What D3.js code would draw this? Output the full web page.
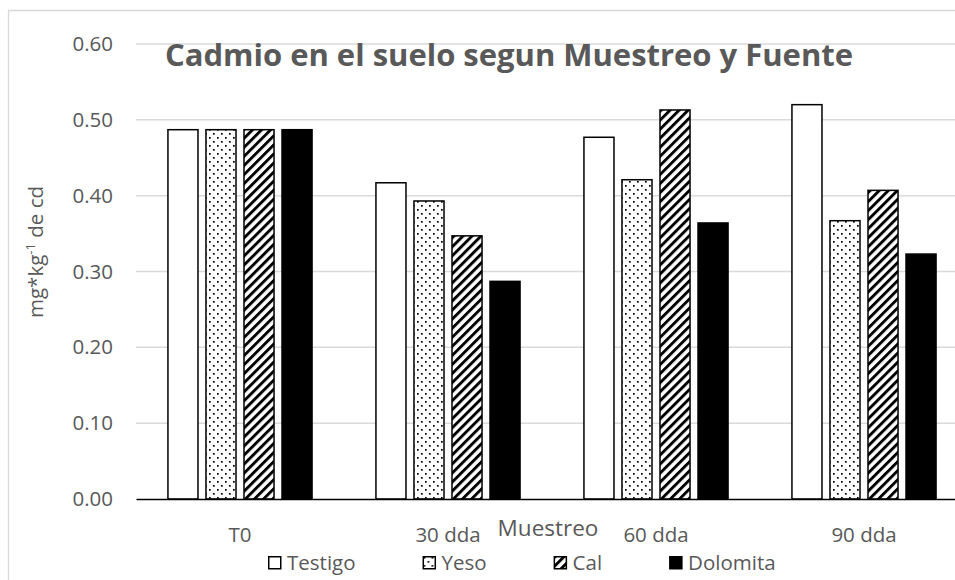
<!DOCTYPE html>
<html lang="es">
<head>
<meta charset="UTF-8">
<title>Cadmio en el suelo</title>
<script src="https://d3js.org/d3.v7.min.js"></script>
<style>
  body { margin: 0; background: #fff; }
  .chart text { font-family: "Open Sans", sans-serif; fill: #595959; }
</style>
</head>
<body>
<div class="chart"></div>
<script>
// datos
const muestreos = ['T0', '30 dda', '60 dda', '90 dda']
const fuentes = ['Testigo', 'Yeso', 'Cal', 'Dolomita']
const testigo  = [0.487, 0.417, 0.477, 0.520]
const yeso     = [0.487, 0.393, 0.421, 0.367]
const cal      = [0.487, 0.347, 0.513, 0.407]
const dolomita = [0.487, 0.287, 0.364, 0.323]
const yTicks = [0, 0.1, 0.2, 0.3, 0.4, 0.5, 0.6]

const valores = [testigo, yeso, cal, dolomita]
const data = muestreos.map((m, i) => ({
  muestreo: m,
  vals: fuentes.map((f, j) => ({ fuente: f, valor: valores[j][i] }))
}))

const width = 955, height = 580
const plot = { left: 136, right: 968, top: 44, bottom: 499 }

const svg = d3.select('.chart').append('svg')
  .attr('width', width)
  .attr('height', height)

// patrones
const defs = svg.append('defs')
const dots = defs.append('pattern').attr('id', 'dots')
  .attr('patternUnits', 'userSpaceOnUse').attr('width', 8).attr('height', 8)
dots.append('rect').attr('width', 8).attr('height', 8).attr('fill', '#fff')
dots.append('rect').attr('x', 1).attr('y', 1).attr('width', 1.7).attr('height', 1.7).attr('fill', '#000')
dots.append('rect').attr('x', 5).attr('y', 5).attr('width', 1.7).attr('height', 1.7).attr('fill', '#000')

const stripes = defs.append('pattern').attr('id', 'stripes')
  .attr('patternUnits', 'userSpaceOnUse').attr('width', 6.4).attr('height', 6.4)
  .attr('patternTransform', 'rotate(45)')
stripes.append('rect').attr('width', 6.4).attr('height', 6.4).attr('fill', '#fff')
stripes.append('rect').attr('width', 2.9).attr('height', 6.4).attr('fill', '#000')

const fill = d3.scaleOrdinal()
  .domain(fuentes)
  .range(['#fff', 'url(#dots)', 'url(#stripes)', '#000'])

// borde del area del grafico
svg.append('path')
  .attr('d', `M8.5,${height} V10.5 H${width}`)
  .attr('fill', 'none').attr('stroke', '#d9d9d9').attr('stroke-width', 1.3)

// escalas
const x0 = d3.scaleBand().domain(muestreos).range([plot.left, plot.right])
const x1 = d3.scaleBand().domain(fuentes).range([0, x0.bandwidth()])
  .paddingInner(0.21).paddingOuter(0.84)
const y = d3.scaleLinear().domain([0, 0.6]).range([plot.bottom, plot.top])

// grilla
svg.append('g')
  .selectAll('line')
  .data(yTicks.filter(d => d > 0))
  .enter().append('line')
  .attr('x1', plot.left).attr('x2', plot.right)
  .attr('y1', d => y(d)).attr('y2', d => y(d))
  .attr('stroke', '#d9d9d9').attr('stroke-width', 1.5)

// eje Y
const yAxis = d3.axisLeft(y).tickValues(yTicks).tickFormat(d3.format('.2f')).tickSize(0).tickPadding(23)
const gy = svg.append('g').attr('transform', `translate(${plot.left},0)`).call(yAxis)
gy.select('.domain').remove()
gy.selectAll('text').style('font-size', '20.5px')

// barras
svg.append('g')
  .selectAll('g')
  .data(data)
  .enter().append('g')
  .attr('transform', d => `translate(${x0(d.muestreo)},0)`)
  .selectAll('rect')
  .data(d => d.vals)
  .enter().append('rect')
  .attr('x', d => x1(d.fuente))
  .attr('y', d => y(d.valor))
  .attr('width', x1.bandwidth())
  .attr('height', d => y(0) - y(d.valor))
  .attr('fill', d => fill(d.fuente))
  .attr('stroke', '#000').attr('stroke-width', 1.5)

// eje X
const xAxis = d3.axisBottom(x0).tickSize(0)
const gx = svg.append('g').attr('transform', `translate(0,${plot.bottom})`).call(xAxis)
gx.select('.domain').attr('stroke', '#000').attr('stroke-width', 1.5)
gx.selectAll('text').style('font-size', '20.5px').attr('y', 36).attr('dy', '0.32em')

// titulos
svg.append('text')
  .attr('x', 509).attr('y', 66)
  .attr('text-anchor', 'middle')
  .attr('textLength', 688)
  .style('font-size', '31px').style('font-weight', 'bold')
  .text('Cadmio en el suelo segun Muestreo y Fuente')

svg.append('text')
  .attr('x', 548).attr('y', 536)
  .attr('text-anchor', 'middle')
  .style('font-size', '22.5px')
  .text('Muestreo')

const yt = svg.append('text')
  .attr('transform', 'translate(43,252) rotate(-90)')
  .attr('text-anchor', 'middle')
  .style('font-size', '20.5px')
yt.append('tspan').text('mg*kg')
yt.append('tspan').attr('dy', -8).style('font-size', '13px').text('-1')
yt.append('tspan').attr('dy', 8).text(' de cd')

// leyenda
const legend = svg.append('g').attr('transform', 'translate(0,556)')
let lx = 268
fuentes.forEach(f => {
  const item = legend.append('g').attr('transform', `translate(${lx},0)`)
  item.append('rect').attr('x', 0.75).attr('y', 0.75).attr('width', 12).attr('height', 12)
    .attr('fill', fill(f)).attr('stroke', '#000').attr('stroke-width', 1.5)
  const t = item.append('text').attr('x', 19).attr('y', 14).style('font-size', '20.5px').text(f)
  lx += 19 + t.node().getComputedTextLength() + 67
})
</script>
</body>
</html>
